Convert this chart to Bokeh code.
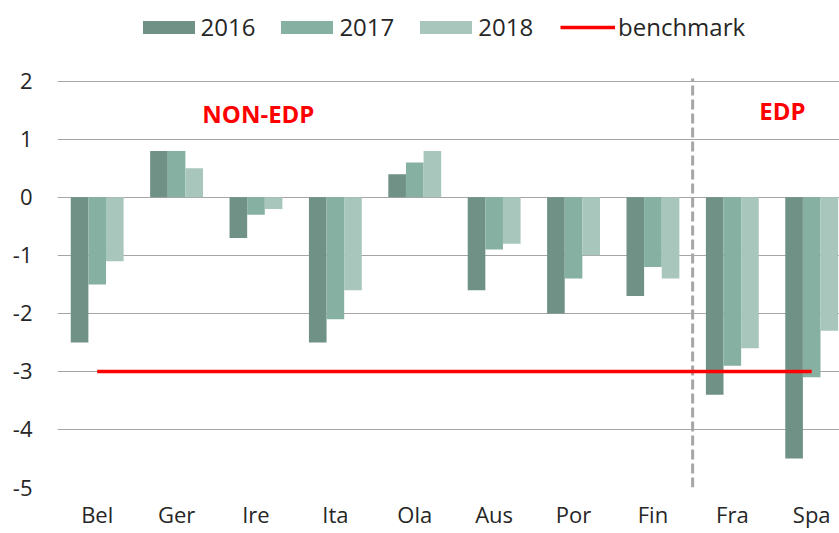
from bokeh.plotting import figure
from bokeh.models import Range1d, FixedTicker, Label, Legend, LegendItem
from bokeh.embed import file_html
from bokeh.resources import INLINE

categories = ["Bel", "Ger", "Ire", "Ita", "Ola", "Aus", "Por", "Fin", "Fra", "Spa"]
years = ["2016", "2017", "2018"]
v2016 = [-2.5, 0.8, -0.7, -2.5, 0.4, -1.6, -2.0, -1.7, -3.4, -4.5]
v2017 = [-1.5, 0.8, -0.3, -2.1, 0.6, -0.9, -1.4, -1.2, -2.9, -3.1]
v2018 = [-1.1, 0.5, -0.2, -1.6, 0.8, -0.8, -1.0, -1.4, -2.6, -2.3]
benchmark = -3
y_ticks = [-5, -4, -3, -2, -1, 0, 1, 2]
edp_first = "Fra"

colors = ["#709286", "#86b0a2", "#a8c6bc"]
FONT = "Open Sans"
TXT = "#262626"
GRID = "#a6a6a6"

# frame reaches the top of the canvas so that the legend (inside the frame) is not clipped
p = figure(width=839, height=533, output_backend="svg", toolbar_location=None,
           x_range=Range1d(0, 9.85), y_range=Range1d(-5, 3.392),
           min_border_left=57, min_border_right=0, min_border_top=0, min_border_bottom=46)
p.outline_line_color = None
p.background_fill_color = "white"

# grid
p.xgrid.grid_line_color = None
p.ygrid.grid_line_color = GRID
p.ygrid.grid_line_width = 1.2

# axes
p.yaxis.ticker = FixedTicker(ticks=y_ticks)
p.yaxis.major_label_overrides = {t: str(t) for t in y_ticks}
xt = [i + 0.5 for i in range(len(categories))]
p.xaxis.ticker = FixedTicker(ticks=xt)
p.xaxis.major_label_overrides = {t: c for t, c in zip(xt, categories)}
for ax in (p.xaxis[0], p.yaxis[0]):
    ax.axis_line_color = None
    ax.major_tick_line_color = None
    ax.minor_tick_line_color = None
    ax.major_tick_out = 0
    ax.major_tick_in = 0
    ax.major_label_text_font = FONT
    ax.major_label_text_font_size = "22px"
    ax.major_label_text_color = TXT
p.yaxis.major_label_standoff = 25
p.xaxis.major_label_standoff = 11

bw = 0.222
offsets = [-bw, 0, bw]
renderers = []
for vals, off, col in zip([v2016, v2017, v2018], offsets, colors):
    r = p.vbar(x=[i + 0.5 + off for i in range(len(categories))], top=vals, bottom=0,
               width=bw, fill_color=col, line_color=None)
    renderers.append(r)

# EDP divider
div_x = categories.index(edp_first)
p.segment(x0=[div_x], y0=[min(y_ticks)], x1=[div_x], y1=[max(y_ticks) + 0.05],
          line_color=GRID, line_width=3, line_dash="10 4")

# benchmark
bl = p.line(x=[0.5, len(categories) - 0.5], y=[benchmark, benchmark], line_color="#ff0000",
            line_width=3.5)

# group labels
p.add_layout(Label(x=2.53, y=1.44, text="NON-EDP", text_font=FONT, text_font_size="24px",
                   text_font_style="bold", text_color="#ff0000", text_align="center",
                   text_baseline="middle"))
p.add_layout(Label(x=9.13, y=1.49, text="EDP", text_font=FONT, text_font_size="24px",
                   text_font_style="bold", text_color="#ff0000", text_align="center",
                   text_baseline="middle"))

common = dict(orientation="horizontal", padding=0, margin=0, border_line_color=None,
              background_fill_alpha=0, label_text_font=FONT, label_text_font_size="24px",
              label_text_color=TXT)
bar_items = [LegendItem(label=y, renderers=[r]) for y, r in zip(years, renderers)]
legend_bars = Legend(items=bar_items, location=(78.5, 444), glyph_width=65, glyph_height=16,
                     label_standoff=-2, spacing=19, **common)
legend_line = Legend(items=[LegendItem(label="benchmark", renderers=[bl])], location=(503, 444),
                     glyph_width=55, glyph_height=16, label_standoff=3, spacing=0, **common)
p.add_layout(legend_bars)
p.add_layout(legend_line)

open("out.html", "w").write(file_html(p, INLINE))
